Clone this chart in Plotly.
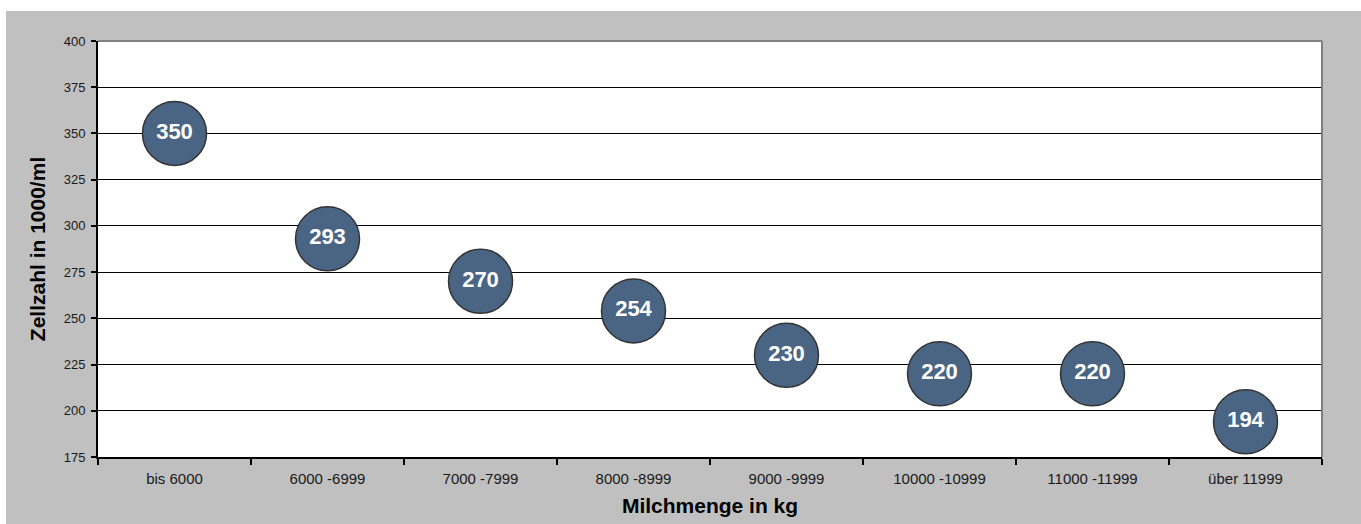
import plotly.graph_objects as go

categories = ["bis 6000", "6000 -6999", "7000 -7999", "8000 -8999", "9000 -9999",
              "10000 -10999", "11000 -11999", "über 11999"]
values = [350, 293, 270, 254, 230, 220, 220, 194]
y_ticks = [175, 200, 225, 250, 275, 300, 325, 350, 375, 400]

W, H = 1361, 524
L, R, T, B = 98, 39, 41, 67
pw, ph = W - L - R, H - T - B
FONT = "Liberation Sans, Arial, sans-serif"

fig = go.Figure()
fig.add_trace(go.Scatter(
    x=categories, y=values, mode="markers+text",
    text=[str(v) for v in values], textposition="middle center",
    textfont=dict(family=FONT, size=22, color="white", weight="bold"),
    marker=dict(size=64, color="#4A6584", line=dict(color="#333333", width=1.5)),
    cliponaxis=False, hoverinfo="skip", showlegend=False,
))

# white strips outside the grey panel (top and left)
fig.add_shape(type="rect", xref="paper", yref="paper",
              x0=-L / pw - 0.01, x1=(W - L) / pw + 0.01,
              y0=(ph + T - 11) / ph, y1=(ph + T) / ph + 0.01,
              fillcolor="white", line=dict(width=0), layer="below")
fig.add_shape(type="rect", xref="paper", yref="paper",
              x0=-L / pw - 0.01, x1=(6 - L) / pw,
              y0=-B / ph - 0.01, y1=(ph + T) / ph + 0.01,
              fillcolor="white", line=dict(width=0), layer="below")
# grey border top and right
fig.add_shape(type="line", xref="paper", yref="paper", x0=0, x1=1, y0=1, y1=1,
              line=dict(color="#808080", width=2), layer="above")
fig.add_shape(type="line", xref="paper", yref="paper", x0=1, x1=1, y0=0, y1=1,
              line=dict(color="#808080", width=2), layer="above")

fig.update_layout(
    width=W, height=H,
    margin=dict(l=L, r=R, t=T, b=B, pad=0, autoexpand=False),
    paper_bgcolor="#C0C0C0", plot_bgcolor="white",
    font=dict(family=FONT, color="#222222"),
    xaxis=dict(
        type="category", tickson="boundaries", ticks="outside", ticklen=6,
        tickwidth=1.5, tickcolor="black", showgrid=False, automargin=False,
        showline=True, linecolor="black", linewidth=2,
        tickfont=dict(size=15, color="#1a1a1a"), ticklabelstandoff=7,
        title=dict(text="Milchmenge in kg", standoff=12,
                   font=dict(size=21, color="black", weight="bold")),
        range=[-0.5, 7.5],
    ),
    yaxis=dict(
        range=[175, 400], tickvals=y_ticks, ticks="outside", ticklen=5,
        tickwidth=1.5, tickcolor="black", automargin=False,
        showline=True, linecolor="black", linewidth=2,
        showgrid=True, gridcolor="black", gridwidth=1.4, zeroline=False,
        tickfont=dict(size=13, color="#1a1a1a"), ticklabelstandoff=3,
        title=dict(text="Zellzahl in 1000/ml", standoff=12,
                   font=dict(size=21, color="black", weight="bold")),
    ),
)

fig.write_html("out.html", config={"displayModeBar": False},
               post_script="document.body.style.margin='0';document.body.style.padding='0';")
